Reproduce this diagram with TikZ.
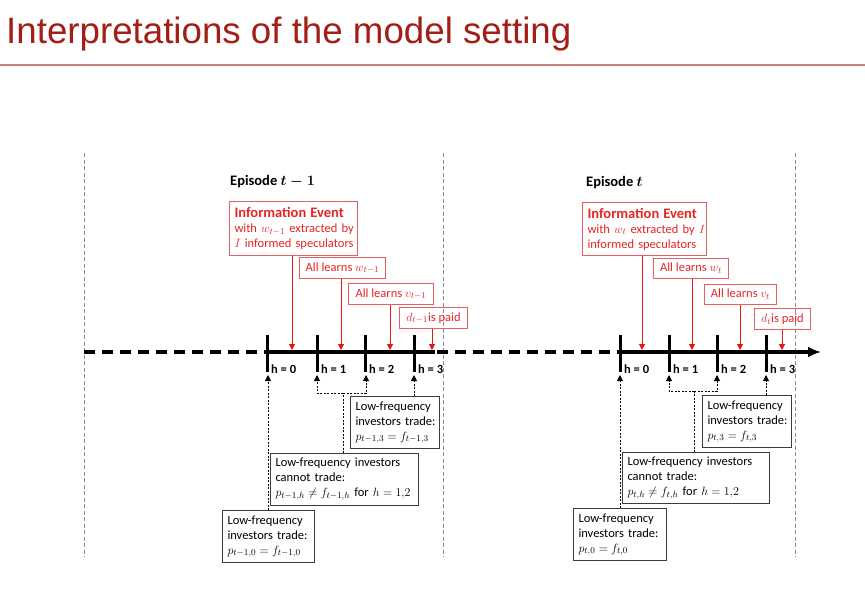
\documentclass[tikz,border=0pt]{standalone}
\usepackage{fontspec}
\setmainfont{Carlito}
\newfontfamily\titlefont{Liberation Sans}
\usetikzlibrary{arrows.meta}
\definecolor{titlered}{RGB}{162,30,22}
\definecolor{rulered}{RGB}{205,128,118}
\definecolor{boxred}{RGB}{232,36,36}
\definecolor{boxedge}{RGB}{228,96,96}
\definecolor{arrred}{RGB}{230,20,20}
\definecolor{sepgray}{RGB}{140,140,140}
\definecolor{boxgray}{RGB}{60,60,60}
\newcommand{\oneline}[1]{\mbox{#1}}
\tikzset{
  redbox/.style={draw=boxedge, line width=1pt, text=boxred, inner xsep=5pt, inner ysep=2pt,
    font=\fontsize{12.5}{15}\selectfont},
  blackbox/.style={draw=boxgray, line width=1pt, text=black, inner xsep=5pt, inner ysep=2pt,
    align=left, anchor=north west, font=\fontsize{12.5}{15}\selectfont},
  redarrow/.style={draw=arrred, line width=1pt, -{Triangle[length=6pt,width=6pt]}},
  dotarrow/.style={draw=black, line width=0.8pt, dash pattern=on 2pt off 1.5pt, -{Triangle[length=6pt,width=6pt]}},
  dotline/.style={draw=black, line width=0.8pt, dash pattern=on 2pt off 1.5pt},
  tickmark/.style={line width=3pt},
  hlab/.style={anchor=west, inner sep=0pt, font=\bfseries\fontsize{12.5}{15}\selectfont},
  eplab/.style={anchor=west, inner sep=0pt, font=\bfseries\boldmath\fontsize{14.5}{17}\selectfont},
  sepline/.style={draw=sepgray, line width=1pt, dash pattern=on 4pt off 2.5pt},
  dashaxis/.style={line width=4pt, dash pattern=on 11pt off 7pt},
  solidaxis/.style={line width=3.5pt}
}
\begin{document}
\begin{tikzpicture}[x=1pt,y=-1pt]
\useasboundingbox[fill=white] (0,0) rectangle (865,592);
% title
\node[anchor=base west, inner sep=0pt, text=titlered, font=\titlefont\fontsize{36.7}{40}\selectfont] (title) at (6,43) {Interpretations of the model setting};
\draw[rulered, line width=1.2pt] (0,65) -- (865,65);

% separators
\draw[sepline] (84,153) -- (84,557);
\draw[sepline] (443,153) -- (443,557);
\draw[sepline] (795,153) -- (795,557);

% axis
\draw[dashaxis] (84,352) -- (267,352);
\draw[dashaxis] (437,352) -- (620,352);
\draw[solidaxis] (267,352) -- (435,352);
\draw[solidaxis, -{Latex[length=13pt,width=11pt]}] (620,352) -- (821,352);

% ticks and h labels
\foreach \x/\h in {267/0,317/1,365/2,414/3,620/0,669/1,717/2,766/3}{
  \draw[tickmark] (\x,335) -- (\x,372);
  \node[hlab] (h\x) at (\x+4,369) {h = \h};
}

% coordinates on axis / below ticks
\coordinate (L0) at (268,375);
\coordinate (L1) at (317,375);
\coordinate (L2) at (366,375);
\coordinate (L3) at (414,375);
\coordinate (R0) at (620,375);
\coordinate (R1) at (669,375);
\coordinate (R2) at (717,375);
\coordinate (R3) at (766,375);
\coordinate (Lmid) at (343,393);
\coordinate (Rmid) at (694,391);

\coordinate (aL0) at (292,350);
\coordinate (aL1) at (341,350);
\coordinate (aL2) at (390,350);
\coordinate (aL3) at (432,350);
\coordinate (aR0) at (642,350);
\coordinate (aR1) at (692,350);
\coordinate (aR2) at (740,350);
\coordinate (aR3) at (782,350);

% episode labels
\node[eplab] (epL) at (230,182) {Episode $t-1$};
\node[eplab] (epR) at (586,183) {Episode $t$};

% red boxes, left
\node[redbox, anchor=north west, minimum width=128pt, minimum height=54pt, text width=118pt, align=left] (infoL) at (229,201)
  {\oneline{\bfseries\fontsize{14.5}{16}\selectfont Information Event}\\\oneline{with $w_{t-1}$ extracted by}\\\oneline{$I$ informed speculators}};
\node[redbox, anchor=north west, minimum width=86pt, minimum height=21pt] (wL) at (299,257) {All learns $w_{t-1}$};
\node[redbox, anchor=north west, minimum width=85pt, minimum height=21pt] (vL) at (348,283) {All learns $v_{t-1}$};
\node[redbox, anchor=north west, minimum width=68pt, minimum height=21pt] (dL) at (399,307) {$d_{t-1}$is paid};

% red boxes, right
\node[redbox, anchor=north west, minimum width=124pt, minimum height=53pt, text width=114pt, align=left] (infoR) at (582,202)
  {\oneline{\bfseries\fontsize{14.5}{16}\selectfont Information Event}\\\oneline{with $w_{t}$ extracted by $I$}\\\oneline{informed speculators}};
\node[redbox, anchor=north west, minimum width=75pt, minimum height=20pt] (wR) at (653,258) {All learns $w_{t}$};
\node[redbox, anchor=north west, minimum width=72pt, minimum height=20pt] (vR) at (704,284) {All learns $v_{t}$};
\node[redbox, anchor=north west, minimum width=56pt, minimum height=21pt] (dR) at (754,308) {$d_{t}$is paid};

% red arrows
\draw[redarrow] (infoL.south -| aL0) -- (aL0);
\draw[redarrow] (wL.south -| aL1) -- (aL1);
\draw[redarrow] (vL.south -| aL2) -- (aL2);
\draw[redarrow] (dL.south -| aL3) -- (aL3);
\draw[redarrow] (infoR.south -| aR0) -- (aR0);
\draw[redarrow] (wR.south -| aR1) -- (aR1);
\draw[redarrow] (vR.south -| aR2) -- (aR2);
\draw[redarrow] (dR.south -| aR3) -- (aR3);

% black boxes, left
\node[blackbox, minimum width=92pt, minimum height=52pt, text width=82pt] (B0L) at (222,510)
  {\oneline{Low-frequency}\\\oneline{investors trade:}\\\oneline{$p_{t-1,0}=f_{t-1,0}$}};
\node[blackbox, minimum width=148pt, minimum height=52pt, text width=138pt] (B12L) at (270,453)
  {\oneline{Low-frequency investors}\\\oneline{cannot trade:}\\\oneline{$p_{t-1,h}\neq f_{t-1,h}$ for $h=1{,}2$}};
\node[blackbox, minimum width=89pt, minimum height=52pt, text width=79pt] (B3L) at (350,396)
  {\oneline{Low-frequency}\\\oneline{investors trade:}\\\oneline{$p_{t-1,3}=f_{t-1,3}$}};

% black boxes, right
\node[blackbox, minimum width=93pt, minimum height=52pt, text width=83pt] (B0R) at (573,508)
  {\oneline{Low-frequency}\\\oneline{investors trade:}\\\oneline{$p_{t,0}=f_{t,0}$}};
\node[blackbox, minimum width=147pt, minimum height=51pt, text width=137pt] (B12R) at (622,452)
  {\oneline{Low-frequency investors}\\\oneline{cannot trade:}\\\oneline{$p_{t,h}\neq f_{t,h}$ for $h=1{,}2$}};
\node[blackbox, minimum width=89pt, minimum height=52pt, text width=79pt] (B3R) at (702,395)
  {\oneline{Low-frequency}\\\oneline{investors trade:}\\\oneline{$p_{t,3}=f_{t,3}$}};

% dotted connectors, left
\draw[dotarrow] (B0L.north -| L0) -- (L0);
\draw[dotline] (B12L.north -| Lmid) -- (Lmid);
\draw[dotarrow] (Lmid) -| (L1);
\draw[dotarrow] (Lmid) -| (L2);
\draw[dotarrow] (B3L.north -| L3) -- (L3);

% dotted connectors, right
\draw[dotarrow] (B0R.north -| R0) -- (R0);
\draw[dotline] (B12R.north -| Rmid) -- (Rmid);
\draw[dotarrow] (Rmid) -| (R1);
\draw[dotarrow] (Rmid) -| (R2);
\draw[dotarrow] (B3R.north -| R3) -- (R3);
\end{tikzpicture}
\end{document}
